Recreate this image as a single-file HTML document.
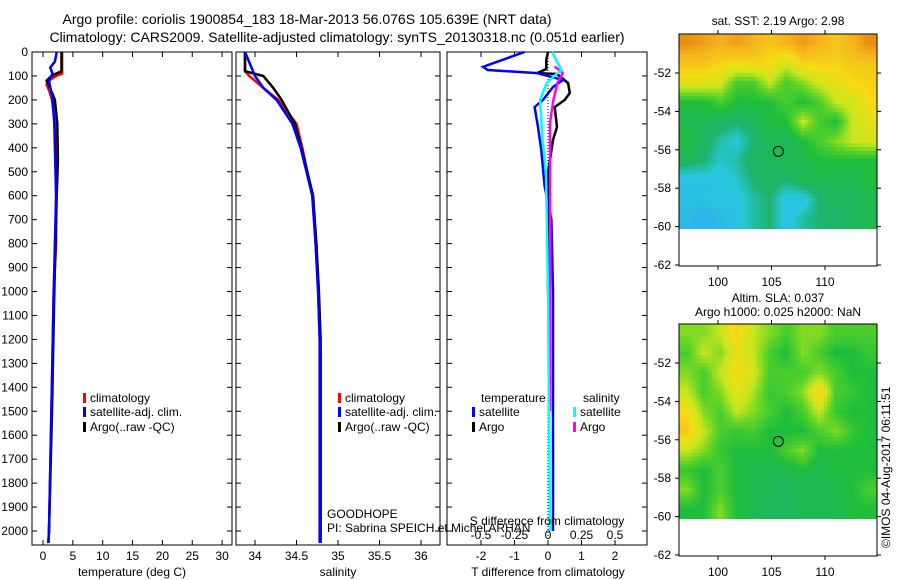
<!DOCTYPE html>
<html><head><meta charset="utf-8">
<style>
body{margin:0;background:#fff;}
svg{display:block;font-family:"Liberation Sans",sans-serif;font-size:12px;}
</style></head>
<body>
<svg id="chart" width="900" height="580" xmlns="http://www.w3.org/2000/svg">
<defs>
<clipPath id="c1"><rect x="679" y="34" width="198" height="195"/></clipPath>
<clipPath id="c2"><rect x="679" y="324" width="198" height="195"/></clipPath></defs>
<text x="307" y="24" text-anchor="middle" font-size="14">Argo profile: coriolis 1900854_183 18-Mar-2013 56.076S 105.639E (NRT data)</text>
<text x="337" y="42" text-anchor="middle" font-size="14">Climatology: CARS2009. Satellite-adjusted climatology: synTS_20130318.nc (0.051d earlier)</text>
<g id="g"></g>
</svg>
<script>
// ---- data ----
const depthTicks=[0,100,200,300,400,500,600,700,800,900,1000,1100,1200,1300,1400,1500,1600,1700,1800,1900,2000];
const tClimD=[0,90,100,120,135,160,200,300,500,800,1000,1500,2000,2050];
const tClim=[3.2,3.2,2.2,1.0,0.6,1.0,1.5,2.0,2.2,2.2,1.8,1.4,1.0,0.9];
const tSatD=[0,40,65,90,120,160,200,300,600,1000,1500,2000,2050];
const tSat=[2.3,2.0,1.2,1.6,1.0,1.3,1.6,1.9,2.2,1.8,1.4,1.0,0.9];
const tArgoD=[0,80,90,100,120,170,200,300,450,600,1000,1500,2000,2050];
const tArgo=[3.1,3.1,2.2,1.4,0.6,1.5,2.0,2.4,2.5,2.3,1.9,1.5,1.0,0.9];
const sClimD=[0,80,100,150,200,300,400,500,600,800,1000,1200,2050];
const sClim=[33.88,33.88,33.93,34.1,34.28,34.5,34.57,34.63,34.69,34.73,34.76,34.78,34.78];
const sSatD=[0,50,100,150,200,300,400,500,600,800,1000,1200,2050];
const sSat=[33.88,33.94,34.0,34.1,34.26,34.45,34.55,34.62,34.69,34.73,34.76,34.78,34.78];
const sArgoD=[0,80,100,150,200,300,400,500,600,800,1000,1200,2050];
const sArgo=[33.88,33.88,34.1,34.22,34.32,34.48,34.56,34.63,34.7,34.74,34.77,34.79,34.79];
const dTSatD=[0,62,75,88,117,146,200,230,313,410,560,700,1000,2000];
const dTSat=[-0.7,-1.94,-1.8,-0.33,0.45,0.15,-0.15,-0.4,-0.3,-0.2,-0.1,0.1,0.15,0.15];
const dTArgoD=[0,33,71,88,92,130,171,200,230,313,367,505,700,1000];
const dTArgo=[0,-0.05,-0.05,-0.33,0.27,0.6,0.65,0.5,0.2,0.27,0.15,0.0,0.0,0.0];
const dSSatD=[0,75,88,130,200,367,505,1000,2000];
const dSSat=[0.03,0.1,0.07,-0.01,-0.06,-0.04,-0.015,0.0,0.015];
const dSArgoD=[60,88,130,200,297,505,1000,1500];
const dSArgo=[0.05,0.11,0.07,0.04,0.015,0.015,0.015,0.015];
const map1=[
[.8,.78,.75,.78,.75,.72,.75,.78,.75,.72,.75,.8],
[.72,.72,.7,.68,.7,.68,.62,.7,.7,.7,.72,.72],
[.65,.65,.62,.5,.5,.6,.5,.55,.62,.65,.68,.7],
[.45,.45,.5,.45,.45,.45,.5,.45,.5,.6,.62,.68],
[.42,.42,.4,.38,.4,.45,.45,.6,.5,.45,.6,.65],
[.45,.4,.35,.32,.38,.42,.4,.45,.5,.55,.6,.62],
[.4,.38,.33,.35,.4,.4,.42,.42,.45,.45,.45,.45],
[.3,.3,.3,.33,.38,.4,.38,.42,.42,.42,.42,.45],
[.3,.3,.32,.3,.35,.38,.3,.3,.38,.4,.4,.42],
[.28,.25,.28,.3,.35,.38,.3,.35,.38,.38,.4,.42]];
const map2=[
[.55,.55,.6,.7,.6,.55,.5,.55,.55,.5,.5,.5],
[.5,.6,.55,.65,.6,.5,.45,.55,.5,.45,.45,.48],
[.55,.5,.6,.68,.62,.5,.5,.5,.55,.5,.45,.45],
[.6,.5,.55,.65,.58,.48,.5,.55,.7,.5,.48,.45],
[.68,.55,.5,.6,.55,.5,.45,.5,.6,.48,.45,.45],
[.72,.6,.5,.48,.5,.45,.45,.45,.5,.55,.48,.45],
[.6,.55,.48,.45,.45,.45,.5,.55,.45,.45,.45,.45],
[.48,.45,.5,.45,.42,.42,.42,.45,.42,.45,.45,.45],
[.55,.45,.5,.45,.42,.42,.4,.42,.42,.42,.45,.5],
[.45,.45,.55,.45,.42,.4,.4,.42,.42,.42,.45,.45]];
const lonTicks=[100,105,110];
const latTicks=[-52,-54,-56,-58,-60,-62];
// ---- helpers ----
const NS='http://www.w3.org/2000/svg';
const G=document.getElementById('g');
function mk(t,a,p){const e=document.createElementNS(NS,t);for(const k in a)e.setAttribute(k,a[k]);(p||G).appendChild(e);return e;}
function txt(x,y,s,anchor,extra){const e=mk('text',Object.assign({x:x,y:y,'text-anchor':anchor||'start'},extra||{}));e.textContent=s;return e;}
const Y=d=>52+d*0.2395;
const BOT=545;
function frame(x0,x1,name){const r=mk('rect',{x:x0,y:52,width:x1-x0,height:BOT-52,fill:'none',stroke:'#000'});

}
function line(xs,ds,X,col,w,name){const pts=xs.map((v,i)=>X(v).toFixed(1)+','+Y(ds[i]).toFixed(1)).join(' ');
const e=mk('polyline',{points:pts,fill:'none',stroke:col,'stroke-width':w});

}
function xTicks(vals,X,labels,y){vals.forEach((v,i)=>{mk('line',{x1:X(v),x2:X(v),y1:BOT,y2:BOT-5,stroke:'#000'});mk('line',{x1:X(v),x2:X(v),y1:52,y2:57,stroke:'#000'});
const t=txt(X(v),y,labels[i],'middle');

});}
function yTicks(x0,x1,lab){depthTicks.forEach(d=>{mk('line',{x1:x0,x2:x0+5,y1:Y(d),y2:Y(d),stroke:'#000'});mk('line',{x1:x1,x2:x1-5,y1:Y(d),y2:Y(d),stroke:'#000'});
if(lab){const t=txt(28,Y(d)+4,String(d),'end');

}});}
function legend(x,y,col,s){mk('rect',{x:x,y:y-9,width:3,height:10,fill:col});const t=txt(x+7,y,s);

}
// panel 1 temperature
const X1=v=>43+v*5.97;
frame(32,232,'temperature-panel');yTicks(32,232,true);
xTicks([0,5,10,15,20,25,30],X1,['0','5','10','15','20','25','30'],560);
line(tClim,tClimD,X1,'#f00',2.5,'temp-climatology-line');
line(tArgo,tArgoD,X1,'#000',2.5,'temp-argo-line');
line(tSat,tSatD,X1,'#00f',2.5,'temp-satellite-line');
let t=txt(132,576,'temperature (deg C)','middle');

legend(83,402,'#f00','climatology');legend(83,416,'#00f','satellite-adj. clim.');legend(83,431,'#000','Argo(..raw -QC)');
// panel 2 salinity
const X2=v=>255+(v-34)*83;
frame(236,440,'salinity-panel');yTicks(236,440,false);
xTicks([34,34.5,35,35.5,36],X2,['34','34.5','35','35.5','36'],560);
line(sClim,sClimD,X2,'#f00',2.5,'sal-climatology-line');
line(sArgo,sArgoD,X2,'#000',2.5,'sal-argo-line');
line(sSat,sSatD,X2,'#00f',2.5,'sal-satellite-line');
t=txt(338,576,'salinity','middle');

legend(338,402,'#f00','climatology');legend(338,416,'#00f','satellite-adj. clim.');legend(338,431,'#000','Argo(..raw -QC)');
t=txt(327,518,'GOODHOPE');
t=txt(327,532,'PI: Sabrina SPEICH et Michel ARHAN');
// panel 3 differences
const X3=v=>548+v*33.5;const XS=v=>548+v*134;
frame(447,647,'difference-panel');yTicks(447,647,false);
xTicks([-2,-1,0,1,2],X3,['-2','-1','0','1','2'],560);
mk('line',{x1:548,x2:548,y1:52,y2:BOT,stroke:'#000','stroke-dasharray':'1,2'});
line(dTArgo,dTArgoD,X3,'#000',2.5,'tdiff-argo-line');
line(dTSat,dTSatD,X3,'#00f',2.5,'tdiff-satellite-line');
line(dSArgo,dSArgoD,XS,'#f0f',2.5,'sdiff-argo-line');
line(dSSat,dSSatD,XS,'#0ff',2.5,'sdiff-satellite-line');
t=txt(548,576,'T difference from climatology','middle');
t=txt(547,525,'S difference from climatology','middle');
[-0.5,-0.25,0,0.25,0.5].forEach(v=>{const e=txt(XS(v),539,String(v),'middle');
});
t=txt(481,402,'temperature');
t=txt(583,402,'salinity');
legend(472,416,'#00f','satellite');legend(472,431,'#000','Argo');legend(573,416,'#0ff','satellite');legend(573,431,'#f0f','Argo');
// maps
const stops=[[.25,[48,176,240]],[.32,[40,200,220]],[.38,[30,180,110]],[.45,[30,190,60]],[.52,[90,210,40]],[.6,[200,230,30]],[.68,[245,220,20]],[.75,[245,180,30]],[.82,[230,130,10]]];
function cmap(v){if(v<=stops[0][0])return 'rgb('+stops[0][1]+')';for(let i=1;i<stops.length;i++){if(v<=stops[i][0]){const a=stops[i-1],b=stops[i],f=(v-a[0])/(b[0]-a[0]);return 'rgb('+a[1].map((c,k)=>Math.round(c+(b[1][k]-c)*f)).join(',')+')';}}return 'rgb('+stops[stops.length-1][1]+')';}
function sample(data,fy,fx){const R=data.length,C=data[0].length;const y=Math.min(Math.max(fy-0.5,0),R-1),x=Math.min(Math.max(fx-0.5,0),C-1);
const y0=Math.floor(y),x0=Math.floor(x),y1=Math.min(y0+1,R-1),x1=Math.min(x0+1,C-1),a=y-y0,b=x-x0;
return data[y0][x0]*(1-a)*(1-b)+data[y0][x1]*(1-a)*b+data[y1][x0]*a*(1-b)+data[y1][x1]*a*b;}
const LX=lon=>718+(lon-100)*10.7;
function drawMap(data,top,name,clip){
const grp=mk('g',{'clip-path':'url(#'+clip+')'});
const rows=data.length,cols=data[0].length,S=5,cw=198/cols/S,rh=195/rows/S;
for(let i=0;i<rows*S;i++)for(let j=0;j<cols*S;j++){const v=sample(data,(i+0.5)/S,(j+0.5)/S);
const c=mk('rect',{x:(679+j*cw).toFixed(2),y:(top+i*rh).toFixed(2),width:(cw+0.6).toFixed(2),height:(rh+0.6).toFixed(2),fill:cmap(v)},grp);

}
const bx=mk('rect',{x:679,y:top,width:198,height:232,fill:'none',stroke:'#000'});

const LY=lat=>top+39+(-52-lat)*19.2;
latTicks.forEach(l=>{mk('line',{x1:679,x2:675,y1:LY(l),y2:LY(l),stroke:'#000'});mk('line',{x1:877,x2:881,y1:LY(l),y2:LY(l),stroke:'#000'});
const e=txt(671,LY(l)+4,String(l),'end');});
lonTicks.forEach(l=>{mk('line',{x1:LX(l),x2:LX(l),y1:top+232,y2:top+236,stroke:'#000'});mk('line',{x1:LX(l),x2:LX(l),y1:top,y2:top-4,stroke:'#000'});
const e=txt(LX(l),top+252,String(l),'middle');});
const ci=mk('circle',{cx:LX(105.64),cy:LY(-56.08),r:5,fill:'none',stroke:'#000'});
}
drawMap(map1,34,'sst-map','c1');
drawMap(map2,324,'sla-map','c2');
t=txt(778,25,'sat. SST: 2.19 Argo: 2.98','middle');
t=txt(778,302,'Altim. SLA: 0.037','middle');
t=txt(778,316,'Argo h1000: 0.025 h2000: NaN','middle');
t=txt(0,0,'©IMOS 04-Aug-2017 06:11:51','start',{transform:'translate(890,548) rotate(-90)'});
</script>
</body></html>
